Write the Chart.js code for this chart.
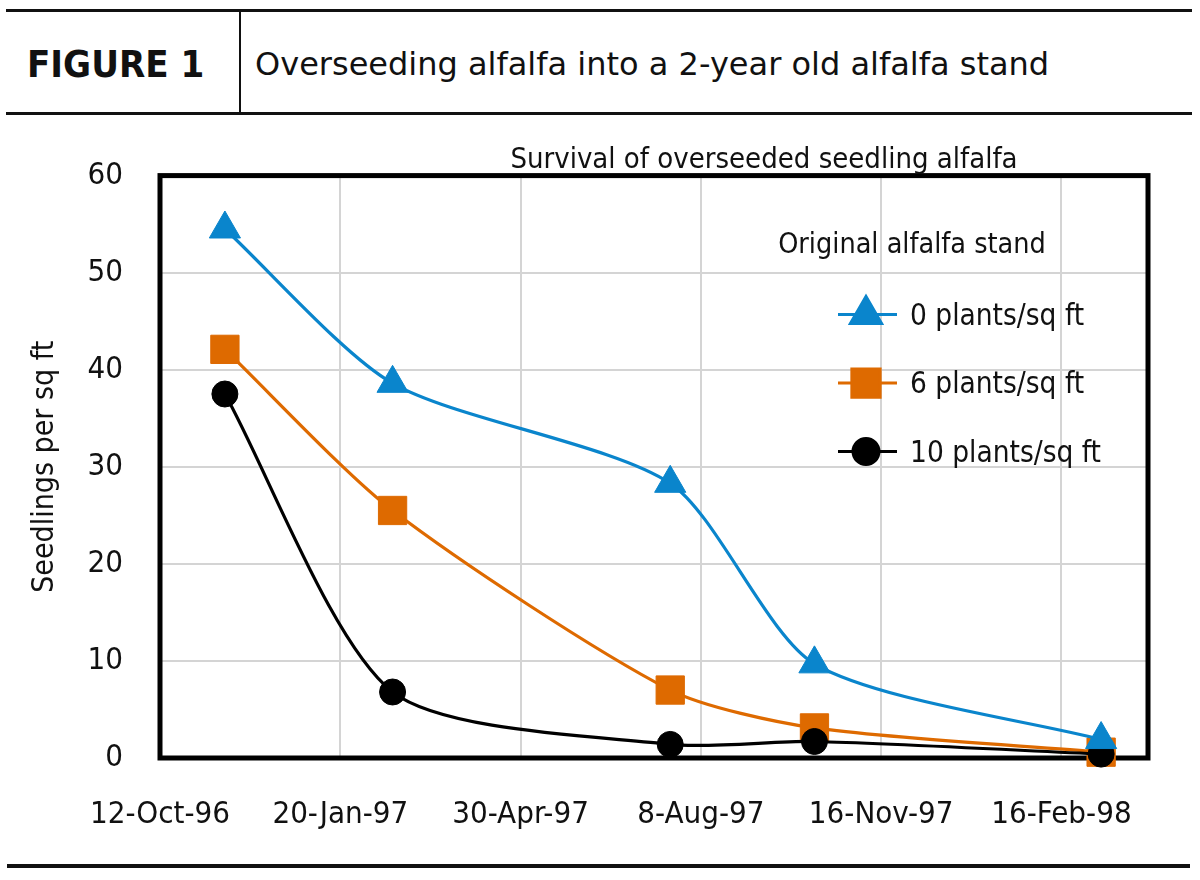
<!DOCTYPE html>
<html>
<head>
<meta charset="utf-8">
<script src="https://cdn.jsdelivr.net/npm/chart.js@4.4.1/dist/chart.umd.min.js"></script>
<style>
  body { margin: 0; background: #fff; width: 1200px; height: 880px; position: relative; overflow: hidden; }
  .rule { position: absolute; background: #111; }
  #figLabel { position: absolute; left: 27px; top: 14px; height: 100px;
    font: bold 38px "DejaVu Sans Condensed", "DejaVu Sans", sans-serif; line-height: 100px; color: #111; }
  #figTitle { position: absolute; left: 255px; top: 14px; height: 100px;
    font: 32px "DejaVu Sans", sans-serif; line-height: 100px; color: #111; }
  #wrap { position: absolute; left: 0; top: 120px; width: 1200px; height: 745px; }
</style>
</head>
<body>
<div class="rule" style="left:6px;top:9px;width:1186px;height:3px"></div>
<div class="rule" style="left:6px;top:112px;width:1186px;height:3px"></div>
<div class="rule" style="left:239px;top:12px;width:1.5px;height:100px"></div>
<div id="figLabel">FIGURE 1</div>
<div id="figTitle">Overseeding alfalfa into a 2-year old alfalfa stand</div>
<div id="wrap"><canvas id="myChart" width="1200" height="745"></canvas></div>
<div class="rule" style="left:7px;top:864px;width:1183px;height:3.5px"></div>
<script>
// days since 12-Oct-96 for each sampling date
var sampleDays = [36, 129, 283, 363, 522];
var stand0 = [54.5, 38.6, 28.3, 9.7, 1.9];
var stand6 = [42.1, 25.5, 7.0, 3.1, 0.6];
var stand10 = [37.5, 6.8, 1.4, 1.7, 0.4];
var tickLabels = ['12-Oct-96', '20-Jan-97', '30-Apr-97', '8-Aug-97', '16-Nov-97', '16-Feb-98'];
var seriesNames = ['0 plants/sq ft', '6 plants/sq ft', '10 plants/sq ft'];
var chartTitle = 'Survival of overseeded seedling alfalfa';
var legendTitle = 'Original alfalfa stand';

var FONT = '"Liberation Sans Narrow", "DejaVu Sans Condensed", sans-serif';
Chart.defaults.font.family = FONT;
Chart.defaults.font.size = 31;
Chart.defaults.color = '#111';

function pts(vals) {
  return vals.map(function (v, i) { return { x: sampleDays[i], y: v }; });
}

// frame around plot + title
const framePlugin = {
  id: 'frame',
  beforeDatasetsDraw(chart) {
    const a = chart.chartArea, ctx = chart.ctx;
    ctx.save();
    ctx.strokeStyle = '#000';
    ctx.lineWidth = 5;
    ctx.strokeRect(a.left, a.top, a.right - a.left, a.bottom - a.top);
    ctx.restore();
  },
  afterDraw(chart) {
    const a = chart.chartArea, ctx = chart.ctx;
    ctx.save();
    ctx.font = '29px ' + FONT;
    ctx.fillStyle = '#111';
    ctx.textAlign = 'center';
    ctx.textBaseline = 'alphabetic';
    ctx.fillText(chartTitle, a.left + 604, a.top - 8);
    ctx.restore();
  }
};

// legend drawn inside the plot area
const innerLegend = {
  id: 'innerLegend',
  afterDraw(chart) {
    const a = chart.chartArea, ctx = chart.ctx;
    ctx.save();
    ctx.font = '28.5px ' + FONT;
    ctx.fillStyle = '#111';
    ctx.textAlign = 'center';
    ctx.fillText(legendTitle, a.right - 236, a.top + 77);
    ctx.font = '29.5px ' + FONT;
    chart.data.datasets.forEach(function (ds, i) {
      var y = a.top + 139 + i * 68.5;
      var cx = a.right - 282;
      ctx.strokeStyle = ds.borderColor;
      ctx.lineWidth = 3;
      ctx.beginPath();
      ctx.moveTo(cx - 28, y);
      ctx.lineTo(cx + 31, y);
      ctx.stroke();
      ctx.fillStyle = ds.backgroundColor;
      Chart.helpers.drawPoint(ctx, { pointStyle: ds.pointStyle, radius: ds.pointRadius, rotation: 0, borderWidth: 1 }, cx, y);
      ctx.fillStyle = '#111';
      ctx.textAlign = 'left';
      ctx.fillText(ds.label, a.right - 238, y + 10);
    });
    ctx.restore();
  }
};

const data = {
  datasets: [{
    label: seriesNames[0],
    data: pts(stand0),
    borderColor: '#0a85cc',
    backgroundColor: '#0a85cc',
    pointStyle: 'triangle',
    pointRadius: 18,
    order: 0
  }, {
    label: seriesNames[1],
    data: pts(stand6),
    borderColor: '#de6a00',
    backgroundColor: '#de6a00',
    pointStyle: 'rect',
    pointRadius: 20,
    order: 2
  }, {
    label: seriesNames[2],
    data: pts(stand10),
    borderColor: '#000000',
    backgroundColor: '#000000',
    pointStyle: 'circle',
    pointRadius: 13,
    order: 1
  }]
};
data.datasets.forEach(function (d) {
  d.borderWidth = 3.2;
  d.pointBorderWidth = 1;
  d.pointBorderColor = d.borderColor;
  d.tension = 0.25;
  d.clip = false;
  d.fill = false;
});

const config = {
  type: 'line',
  data: data,
  options: {
    responsive: false,
    animation: false,
    layout: { padding: { top: 52, right: 52, left: 0, bottom: 0 } },
    plugins: {
      legend: { display: false },
      tooltip: { enabled: false }
    },
    scales: {
      x: {
        type: 'linear',
        min: 0,
        max: 548,
        afterFit: function (s) { s.height = 107; },
        grid: { color: '#d4d4d4', lineWidth: 2, drawTicks: false },
        border: { display: false },
        ticks: {
          stepSize: 100,
          padding: 38,
          maxRotation: 0,
          callback: function (v) { return tickLabels[v / 100]; }
        }
      },
      y: {
        min: 0,
        max: 60,
        afterFit: function (s) { s.width = 160; },
        grid: { color: '#d4d4d4', lineWidth: 2, drawTicks: false },
        border: { display: false },
        ticks: { stepSize: 10, padding: 37 },
        title: { display: true, text: 'Seedlings per sq ft', font: { size: 30 }, padding: { top: 27, bottom: 0 } }
      }
    }
  },
  plugins: [framePlugin, innerLegend]
};

const myChart = new Chart(document.getElementById('myChart'), config);
</script>
</body>
</html>
